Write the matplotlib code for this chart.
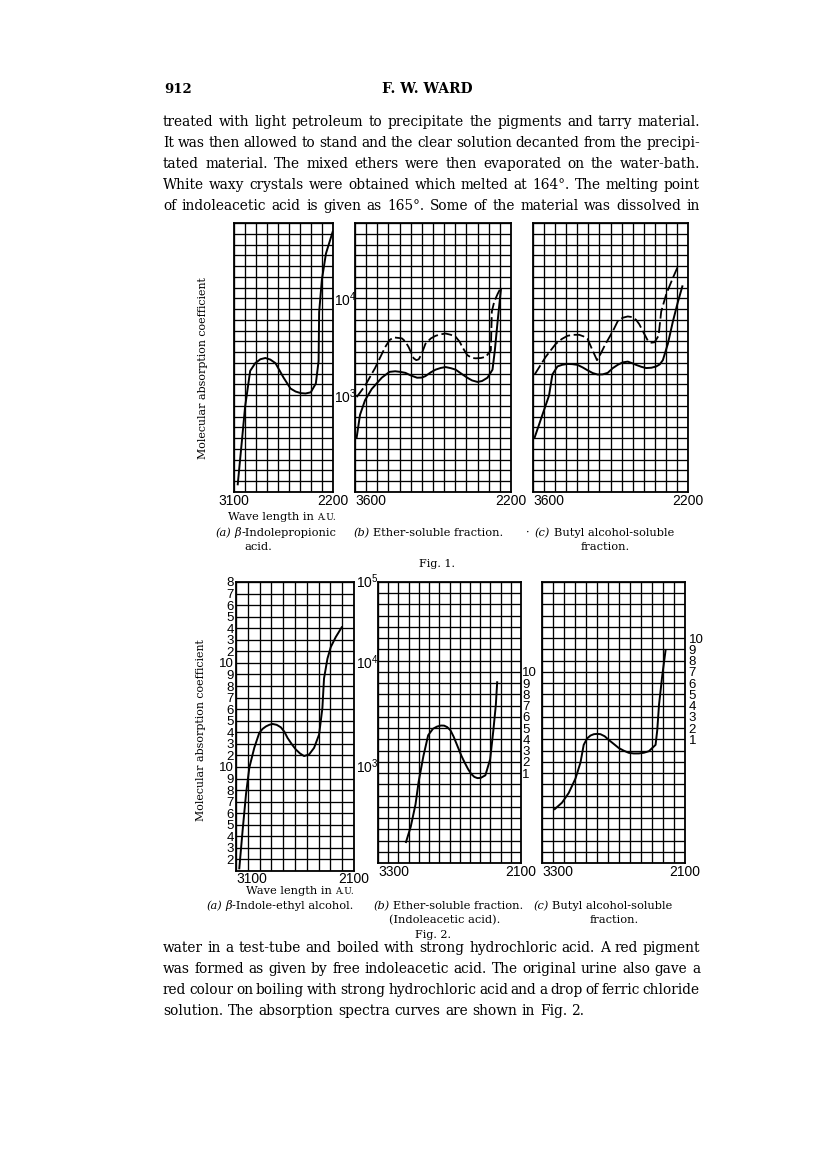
import numpy as np
import matplotlib
matplotlib.use("Agg")
import matplotlib.pyplot as plt
from matplotlib.ticker import NullFormatter

plt.rcParams['font.family'] = ['Liberation Sans', 'DejaVu Sans']
plt.rcParams['mathtext.default'] = 'regular'

# ---- data (wave length in A.U., molecular absorption coefficient) ----
# Fig. 1 (a) beta-indolepropionic acid
f1a_wl = [3066, 3029, 2999, 2953, 2907, 2860, 2815, 2770, 2723, 2650, 2586, 2540, 2494, 2450, 2402, 2356,
          2331, 2326, 2301, 2264, 2203]
f1a_eps = [120, 330, 760, 1780, 2140, 2350, 2420, 2330, 2140, 1520, 1170, 1090, 1050, 1040, 1070, 1320,
           2250, 7200, 15600, 29000, 48600]
# Fig. 1 (b) ether-soluble fraction
f1b_wl = [3585, 3555, 3510, 3450, 3360, 3290, 3239, 3195, 3148, 3100, 3043, 3000, 2968, 2920, 2877, 2830,
          2787, 2740, 2697, 2640, 2592, 2550, 2501, 2460, 2411, 2366, 2345, 2320, 2290]
f1b_eps = [366, 627, 885, 1157, 1514, 1740, 1765, 1740, 1700, 1600, 1514, 1520, 1573, 1720, 1834, 1910,
           1950, 1900, 1834, 1650, 1514, 1420, 1370, 1400, 1514, 1834, 2900, 5800, 12500]
f1b_dash_wl = [3585, 3510, 3420, 3329, 3290, 3254, 3179, 3150, 3119, 3073, 3050, 3028, 3000, 2968, 2920,
               2877, 2830, 2787, 2740, 2697, 2660, 2637, 2592, 2550, 2516, 2470, 2426, 2381, 2372, 2351,
               2320, 2290]
f1b_dash_eps = [955, 1250, 1905, 3140, 3700, 3950, 3860, 3600, 3140, 2400, 2300, 2345, 2700, 3390, 3850,
                4100, 4250, 4330, 4200, 4010, 3550, 3140, 2590, 2420, 2400, 2420, 2490, 2900, 7300, 9200,
                11100, 13000]
# Fig. 1 (c) butyl alcohol-soluble fraction
f1c_wl = [3585, 3515, 3455, 3425, 3379, 3335, 3289, 3245, 3198, 3150, 3107, 3060, 3016, 2970, 2925, 2880,
          2835, 2790, 2744, 2700, 2669, 2620, 2578, 2530, 2487, 2455, 2427, 2382, 2336, 2291, 2251]
f1c_eps = [366, 627, 993, 1634, 1980, 2060, 2100, 2090, 2055, 1930, 1806, 1690, 1634, 1640, 1700, 1900,
           2055, 2180, 2220, 2130, 2055, 1960, 1905, 1920, 1980, 2080, 2300, 3390, 5800, 9200, 13300]
f1c_dash_wl = [3585, 3485, 3394, 3340, 3289, 3235, 3183, 3145, 3107, 3062, 3022, 2987, 2950, 2911, 2870,
               2835, 2790, 2744, 2705, 2669, 2640, 2609, 2563, 2530, 2502, 2466, 2442, 2396, 2336, 2291]
f1c_dash_eps = [1634, 2490, 3390, 3800, 4100, 4200, 4200, 4050, 3800, 2900, 2300, 2700, 3300, 3950, 4800,
                5800, 6300, 6500, 6400, 6000, 5400, 4600, 3660, 3480, 3520, 4100, 7300, 11100, 16300, 21400]
# Fig. 2 (a) beta-indole-ethyl alcohol
f2a_wl = [3072, 3044, 3015, 2987, 2945, 2903, 2875, 2846, 2818, 2790, 2755, 2720, 2690, 2663, 2628, 2593,
          2558, 2523, 2480, 2438, 2396, 2368, 2354, 2325, 2297, 2255, 2204]
f2a_eps = [106, 245, 550, 986, 1528, 2122, 2320, 2454, 2540, 2590, 2540, 2405, 2180, 1900, 1660, 1472,
           1350, 1273, 1320, 1528, 2047, 3670, 7100, 11000, 14200, 17700, 22000]
# Fig. 2 (b) ether-soluble fraction (indoleacetic acid)
f2b_wl = [3065, 3025, 2985, 2959, 2919, 2879, 2839, 2805, 2772, 2745, 2719, 2692, 2665, 2632, 2599, 2572,
          2545, 2518, 2492, 2465, 2438, 2399, 2359, 2332, 2311, 2300]
f2b_eps = [161, 229, 381, 635, 1140, 1832, 2122, 2230, 2285, 2280, 2203, 2050, 1770, 1420, 1140, 980,
           851, 760, 710, 690, 694, 736, 1059, 2047, 3670, 6120]
# Fig. 2 (c) butyl alcohol-soluble fraction
f2c_wl = [3193, 3132, 3076, 3019, 2977, 2950, 2921, 2893, 2865, 2837, 2809, 2774, 2739, 2697, 2656, 2614,
          2572, 2530, 2487, 2445, 2403, 2347, 2333, 2318, 2291, 2263]
f2c_eps = [341, 395, 492, 684, 986, 1472, 1706, 1820, 1876, 1890, 1876, 1790, 1644, 1500, 1370, 1290,
           1228, 1210, 1211, 1230, 1274, 1472, 2047, 3670, 7100, 12700]

# tick labels as printed
f2a_left_labels = ['2', '3', '4', '5', '6', '7', '8', '9', '10', '2', '3', '4', '5', '6', '7', '8', '9',
                   '10', '2', '3', '4', '5', '6', '7', '8']
f2_right_labels = ['1', '2', '3', '4', '5', '6', '7', '8', '9', '10']

body_top = [
    "treated with light petroleum to precipitate the pigments and tarry material.",
    "It was then allowed to stand and the clear solution decanted from the precipi-",
    "tated material. The mixed ethers were then evaporated on the water-bath.",
    "White waxy crystals were obtained which melted at 164\u00b0. The melting point",
    "of indoleacetic acid is given as 165\u00b0.  Some of the material was dissolved in",
]
body_bottom = [
    "water in a test-tube and boiled with strong hydrochloric acid.  A red pigment",
    "was formed as given by free indoleacetic acid. The original urine also gave a",
    "red colour on boiling with strong hydrochloric acid and a drop of ferric chloride",
    "solution. The absorption spectra curves are shown in Fig. 2.",
]

W, H = 816, 1174
fig = plt.figure(figsize=(W / 100, H / 100), dpi=100)
fig.patch.set_facecolor('white')

YTOP = 10 ** (4 + 7 / 9)
rows = 10 ** (np.arange(18, 44) / 9)
dash = (0, (6, 2))


def box(x0, x1, y0, y1):
    return [x0 / W, 1 - y1 / H, (x1 - x0) / W, (y1 - y0) / H]


def panel(x0, x1, y0, y1, xlim, ncol, ybot, xlabels):
    ax = fig.add_axes(box(x0, x1, y0, y1))
    ax.set_yscale('log')
    ax.set_xlim(xlim)
    ax.set_ylim(ybot, YTOP)
    ax.set_xticks(np.linspace(xlim[0], xlim[1], ncol + 1), minor=True)
    ax.set_xticks(list(xlim), xlabels)
    ax.set_yticks(rows, minor=True)
    ax.set_yticks([])
    ax.yaxis.set_minor_formatter(NullFormatter())
    ax.grid(which='both', color='black', lw=0.95)
    ax.tick_params(which='both', length=0, labelsize=10, pad=1.5)
    for sp in ax.spines.values():
        sp.set_linewidth(1.3)
    return ax


# ---- Fig. 1 ----
a1 = panel(234, 333, 223, 492, (3100, 2200), 9, 10 ** (3 - 8 / 9), ['3100', '2200'])
a1.plot(f1a_wl, f1a_eps, color='black', lw=1.4)
a1.yaxis.tick_right()
a1.set_yticks([1e3, 1e4], ['10$^3$', '10$^4$'])
a1.tick_params(axis='y', pad=1)

b1 = panel(355, 511, 223, 492, (3600, 2200), 14, 10 ** (3 - 8 / 9), ['3600', '2200'])
b1.plot(f1b_wl, f1b_eps, color='black', lw=1.4)
b1.plot(f1b_dash_wl, f1b_dash_eps, color='black', lw=1.3, linestyle=dash)
b1.get_xticklabels()[0].set_ha('left')

c1 = panel(533, 688, 223, 492, (3600, 2200), 14, 10 ** (3 - 8 / 9), ['3600', '2200'])
c1.plot(f1c_wl, f1c_eps, color='black', lw=1.4)
c1.plot(f1c_dash_wl, f1c_dash_eps, color='black', lw=1.3, linestyle=dash)
c1.get_xticklabels()[0].set_ha('left')

# ---- Fig. 2 ----
a2 = panel(236, 354, 582, 871, (3100, 2100), 10, 10 ** 2.03, ['3100', '2100'])
a2.plot(f2a_wl, f2a_eps, color='black', lw=1.4)
a2.set_yticks(10 ** (np.arange(19, 44) / 9), f2a_left_labels)
a2.tick_params(axis='y', pad=1.5, labelsize=9.5)
a2.tick_params(axis='x', pad=0.5)
a2.get_xticklabels()[0].set_ha('left')
for v, s in [(YTOP, '10$^5$'), (1e4, '10$^4$'), (1e3, '10$^3$')]:
    a2.text(1.015, v, s, transform=a2.get_yaxis_transform(), ha='left', va='center', fontsize=10)

b2 = panel(378, 521, 582, 863, (3300, 2100), 14, 10 ** 2.105, ['3300', '2100'])
b2.plot(f2b_wl, f2b_eps, color='black', lw=1.4)
b2.yaxis.tick_right()
b2.set_yticks(10 ** (np.arange(26, 36) / 9), f2_right_labels)
b2.tick_params(axis='y', pad=1, labelsize=9.5)
b2.get_xticklabels()[0].set_ha('left')

c2 = panel(542, 685, 582, 863, (3300, 2100), 13, 10 ** 2.105, ['3300', '2100'])
c2.plot(f2c_wl, f2c_eps, color='black', lw=1.4)
c2.yaxis.tick_right()
c2.set_yticks(10 ** (np.arange(29, 39) / 9), f2_right_labels)
c2.tick_params(axis='y', pad=2.5, labelsize=9.5)
c2.get_xticklabels()[0].set_ha('left')

# ---- page text ----
r = fig.canvas.get_renderer()
serif = 'DejaVu Serif'


def put(x, y, s, **kw):
    kw.setdefault('family', serif)
    t = fig.text(x / W, 1 - y / H, s, va='baseline', **kw)
    return t, t.get_window_extent(r).width


def runs(x, y, parts):
    # parts: (text, style, gap after) placed one after another
    for s, st, g in parts:
        t, w = put(x, y, s, **st)
        x += w + g


def justify(s, y, x0=163, x1=700, last=False, size=9.95):
    items = [put(0, y, w, size=size) for w in s.split()]
    total = sum(w for _, w in items)
    gap = 4.6 if last else (x1 - x0 - total) / (len(items) - 1)
    x = x0
    for t, w in items:
        t.set_x(x / W)
        x += w + gap


put(164, 93, '912', size=9.5, weight='bold')
put(427, 93, 'F. W. WARD', size=10, weight='bold', ha='center')

for i, line in enumerate(body_top):
    justify(line, 126 + 21 * i)
for i, line in enumerate(body_bottom):
    justify(line, 952 + 21 * i, last=(i == len(body_bottom) - 1))

ylab = 'Molecular absorption coefficient'
fig.text(203 / W, 1 - 368 / H, ylab, rotation=90, ha='center', va='center', family=serif, size=7.9)
fig.text(201 / W, 1 - 730 / H, ylab, rotation=90, ha='center', va='center', family=serif, size=7.9)

it = {'size': 8.2, 'style': 'italic'}
rm = {'size': 8.2}
sc = {'size': 6.4}

# Fig. 1 labels
runs(228, 520, [('Wave length in', rm, 3), ('A.U.', sc, 0)])
runs(215, 536, [('(a)', it, 4), ('\u03b2', it, 0), ('-Indolepropionic', rm, 0)])
put(244, 550, 'acid.', size=8.2)
runs(353, 536, [('(b)', it, 4), ('Ether-soluble fraction.', rm, 0)])
runs(526, 536, [('\u00b7', rm, 5), ('(c)', it, 4), ('Butyl alcohol-soluble', rm, 0)])
put(581, 550, 'fraction.', size=8.2)
put(437, 567, 'Fig. 1.', size=8.0, ha='center')

# Fig. 2 labels
runs(246, 894, [('Wave length in', rm, 3), ('A.U.', sc, 0)])
runs(206, 909, [('(a)', it, 4), ('\u03b2', it, 0), ('-Indole-ethyl alcohol.', rm, 0)])
runs(373, 909, [('(b)', it, 4), ('Ether-soluble fraction.', rm, 0)])
put(389, 923, '(Indoleacetic acid).', size=8.2)
runs(533, 909, [('(c)', it, 4), ('Butyl alcohol-soluble', rm, 0)])
put(590, 923, 'fraction.', size=8.2)
put(433, 938, 'Fig. 2.', size=8.0, ha='center')

plt.savefig('out.png', dpi=100)
